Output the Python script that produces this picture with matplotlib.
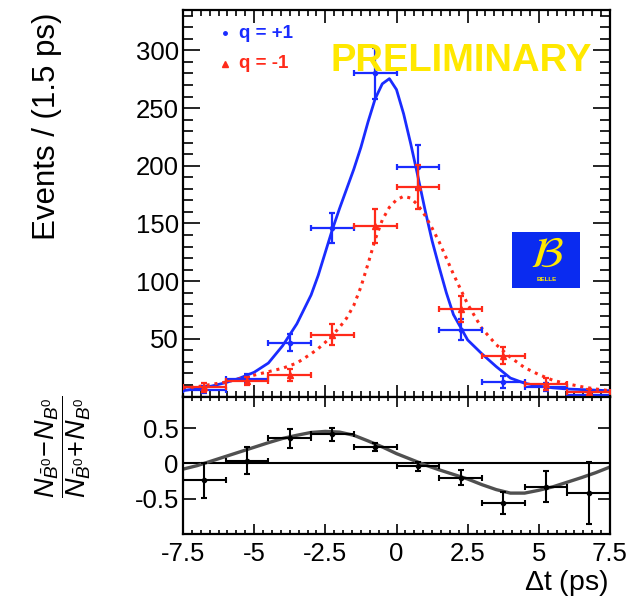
import matplotlib
matplotlib.use('Agg')
import matplotlib.pyplot as plt
from matplotlib.ticker import MultipleLocator
from matplotlib.patches import Rectangle

plt.rcParams['font.family'] = ['Liberation Sans', 'DejaVu Sans']
plt.rcParams['axes.unicode_minus'] = False
plt.rcParams['mathtext.fontset'] = 'custom'
plt.rcParams['mathtext.rm'] = 'Liberation Sans'
plt.rcParams['mathtext.it'] = 'Liberation Sans:italic'
plt.rcParams['mathtext.bf'] = 'Liberation Sans:bold'

# ---------------- data ----------------
bin_centers = [-6.75, -5.25, -3.75, -2.25, -0.75, 0.75, 2.25, 3.75, 5.25, 6.75]
bin_halfwidth = [0.75] * 10

qplus_counts = [5.8, 15.3, 46.6, 146, 280, 199, 57.9, 12.4, 8, 1.5]
qplus_errors = [3, 4, 7.5, 13, 22, 19, 9, 5, 3.5, 2]
qminus_counts = [8, 13.3, 18.8, 53.5, 147.8, 181.7, 76, 35.5, 11, 3.7]
qminus_errors = [4, 3.5, 5, 9, 15, 19, 11, 7.5, 5, 3]

fit_t = [-7.5, -7.0, -6.5, -6.0, -5.5, -5.0, -4.5, -4.0, -3.5, -3.0, -2.75, -2.5,
         -2.25, -2.0, -1.75, -1.5, -1.25, -1.0, -0.75, -0.5, -0.25, 0.0, 0.25,
         0.5, 0.75, 1.0, 1.25, 1.5, 1.75, 2.0, 2.5, 3.0, 3.5, 4.0, 4.5, 5.0,
         5.5, 6.0, 6.5, 7.0, 7.5]
fit_qplus = [5, 7, 9, 12, 16, 21, 29, 44, 63, 88, 105, 125,
             145, 163, 180, 197, 216, 238, 258, 271, 275.5, 266, 245,
             219, 191, 162, 135, 112, 90, 71, 49, 37, 26, 16, 11.5, 9,
             7.5, 6.5, 6, 5.5, 5]
fit_qminus = [7, 8.5, 10.5, 12.5, 15.5, 18.5, 21.5, 24.5, 29, 37, 41.5, 47,
              53, 60, 68, 79, 95, 115, 136, 153, 164, 170.5, 173.5,
              172, 166, 157, 146, 134, 120, 106, 80, 59, 45, 34, 25, 19,
              14, 11, 8.5, 6.5, 5]

asym_values = [-0.24, 0.04, 0.357, 0.414, 0.237, -0.04, -0.20, -0.56, -0.33, -0.42]
asym_errors = [0.245, 0.195, 0.136, 0.09, 0.055, 0.067, 0.11, 0.15, 0.22, 0.435]

asym_fit_t = [-7.5, -7.0, -6.5, -6.0, -5.5, -5.0, -4.5, -4.0, -3.5, -3.0, -2.5,
              -2.0, -1.5, -1.0, -0.5, 0.0, 0.5, 1.0, 1.5, 2.0, 2.5, 3.0, 3.5,
              4.0, 4.5, 5.0, 5.5, 6.0, 6.5, 7.0, 7.5]
asym_fit = [-0.08, -0.03, 0.035, 0.10, 0.165, 0.23, 0.295, 0.355, 0.40, 0.44, 0.455,
            0.445, 0.40, 0.32, 0.235, 0.14, 0.06, -0.02, -0.09, -0.155, -0.22, -0.30, -0.37,
            -0.42, -0.42, -0.38, -0.33, -0.265, -0.20, -0.13, -0.05]

x_ticks = [-7.5, -5, -2.5, 0, 2.5, 5, 7.5]
x_ticklabels = ['-7.5', '-5', '-2.5', '0', '2.5', '5', '7.5']
top_yticks = [50, 100, 150, 200, 250, 300]
bot_yticks = [-0.5, 0, 0.5]
bot_yticklabels = ['-0.5', '0', '0.5']

BLUE = '#1a2cff'
RED = '#ff2a1a'
YELLOW = '#ffe800'

W, H = 635, 598
fig = plt.figure(figsize=(W / 100, H / 100), dpi=100)

def fx(px):
    return px / W

def fy(py):
    return 1 - py / H

L, R = 183, 610
T1, B1, B2 = 10, 396.5, 534
ax1 = fig.add_axes([fx(L), fy(B1), fx(R) - fx(L), fy(T1) - fy(B1)])
ax2 = fig.add_axes([fx(L), fy(B2), fx(R) - fx(L), fy(B1) - fy(B2)])

for ax in (ax1, ax2):
    for s in ax.spines.values():
        s.set_linewidth(1.6)
    ax.set_xlim(-7.5, 7.5)
    ax.xaxis.set_major_locator(MultipleLocator(2.5))
    ax.xaxis.set_minor_locator(MultipleLocator(0.3125))
    ax.tick_params(which='both', direction='in', top=True, right=True, width=1.2)

# -------- top panel --------
ax1.set_ylim(0, 335)
ax1.yaxis.set_major_locator(MultipleLocator(50))
ax1.yaxis.set_minor_locator(MultipleLocator(10))
ax1.set_yticks(top_yticks)
ax1.set_yticklabels([str(v) for v in top_yticks])
ax1.tick_params(axis='y', which='major', length=12, labelsize=18.5, pad=3)
ax1.tick_params(axis='y', which='minor', length=7)
ax1.tick_params(axis='x', which='major', length=9, labelbottom=False)
ax1.tick_params(axis='x', which='minor', length=4)

ax1.plot(fit_t, fit_qplus, color=BLUE, lw=2.0, solid_joinstyle='round', zorder=2)
ax1.plot(fit_t, fit_qminus, color=RED, lw=2.2, ls=(0, (1, 1.6)), zorder=2)

ax1.errorbar(bin_centers, qplus_counts, xerr=bin_halfwidth, yerr=qplus_errors,
             fmt='o', ms=3, color=BLUE, ecolor=BLUE, elinewidth=1.6,
             capsize=2.2, capthick=1.6, zorder=3)
ax1.errorbar(bin_centers, qminus_counts, xerr=bin_halfwidth, yerr=qminus_errors,
             fmt='^', ms=4, color=RED, ecolor=RED, elinewidth=1.6,
             capsize=2.2, capthick=1.6, zorder=4)

def ax1pt(px, py):
    return ((px - L) / (R - L), (B1 - py) / (B1 - T1))

# legend
ax1.plot(*ax1pt(225, 33), 'o', ms=2.5, color=BLUE, transform=ax1.transAxes, clip_on=False)
ax1.plot(*ax1pt(225, 64), '^', ms=4.5, color=RED, transform=ax1.transAxes, clip_on=False)
ax1.text(*ax1pt(239, 33), 'q = +1', color=BLUE, fontsize=13.5, fontweight='bold',
         ha='left', va='center', transform=ax1.transAxes)
ax1.text(*ax1pt(239, 64), 'q = -1', color=RED, fontsize=13.5, fontweight='bold',
         ha='left', va='center', transform=ax1.transAxes)

# PRELIMINARY
ax1.text(*ax1pt(461.5, 61), 'PRELIMINARY', color=YELLOW, fontsize=27.5,
         fontweight='bold', ha='center', va='center', transform=ax1.transAxes, zorder=6)

# Belle logo
x0, y0 = ax1pt(512, 288)
x1, y1 = ax1pt(580, 232)
ax1.add_patch(Rectangle((x0, y0), x1 - x0, y1 - y0, transform=ax1.transAxes,
                        facecolor='#0a2bf0', edgecolor='none', zorder=5))
ax1.text(*ax1pt(547, 254), r'$\mathcal{B}$', color=YELLOW, fontsize=32,
         ha='center', va='center', transform=ax1.transAxes, zorder=6,
         family='DejaVu Sans', math_fontfamily='dejavusans')
ax1.text(*ax1pt(547, 280), 'BELLE', color=YELLOW, fontsize=4.5, fontweight='bold',
         ha='center', va='center', transform=ax1.transAxes, zorder=6)

fig.text(fx(47), fy(12), 'Events / (1.5 ps)', rotation=90, ha='center', va='top',
         fontsize=22.5)

# -------- bottom panel --------
ax2.set_ylim(-1.0, 0.95)
ax2.set_yticks(bot_yticks)
ax2.set_yticklabels(bot_yticklabels)
ax2.tick_params(axis='y', which='major', length=9, labelsize=18.5, pad=3)
ax2.set_xticks(x_ticks)
ax2.set_xticklabels(x_ticklabels)
ax2.tick_params(axis='x', which='major', length=7, labelsize=18.5, pad=6)
ax2.tick_params(axis='x', which='minor', length=3)

ax2.axhline(0, color='black', lw=1.5, zorder=1)
ax2.plot(asym_fit_t, asym_fit, color='#505050', lw=2.4, zorder=2)
ax2.errorbar(bin_centers, asym_values, xerr=bin_halfwidth, yerr=asym_errors,
             fmt='o', ms=3, color='black', ecolor='black', elinewidth=1.5,
             capsize=2.2, capthick=1.5, zorder=3)

fig.text(fx(608), fy(583), r'$\Delta$t (ps)', ha='right', va='center', fontsize=20.5)

fig.text(fx(63), fy(447),
         r'$\dfrac{N_{\bar{B}^0}\!-\!N_{B^0}}{N_{\bar{B}^0}\!+\!N_{B^0}}$',
         rotation=90, ha='center', va='center', fontsize=19.5)

fig.savefig('out.png', dpi=100)
